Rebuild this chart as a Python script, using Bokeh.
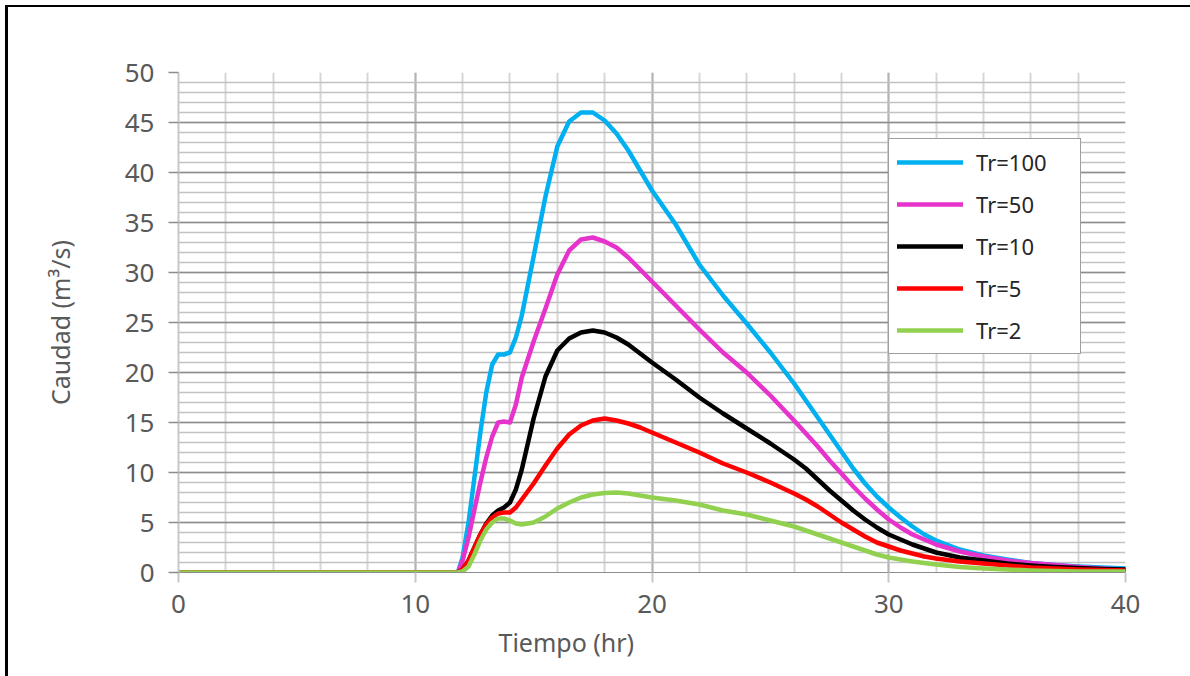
from bokeh.plotting import figure
from bokeh.layouts import column
from bokeh.models import (SingleIntervalTicker, Legend, LegendItem, Title,
                          Range1d, ColumnDataSource)
from bokeh.embed import file_html
from bokeh.resources import INLINE

# ---------------- data ----------------
tiempo = [0, 11.5, 11.8, 12.0, 12.25, 12.5, 12.75, 13.0, 13.25, 13.5, 13.75,
          14.0, 14.25, 14.5, 15.0, 15.5, 16.0, 16.5, 17.0, 17.5, 18.0, 18.5,
          19.0, 19.5, 20, 21, 22, 23, 24, 25, 26, 26.5, 27, 27.5, 28, 28.5,
          29, 29.5, 30, 30.5, 31, 31.5, 32, 33, 34, 35, 36, 37, 38, 39, 40]

tr100 = [0, 0, 0, 1.5, 5.0, 9.5, 14.0, 18.0, 20.8, 21.8, 21.8,
         22.0, 23.5, 25.7, 31.6, 37.6, 42.6, 45.1, 46.0, 46.0, 45.2, 43.9,
         42.2, 40.2, 38.2, 34.8, 30.8, 27.7, 24.9, 22.0, 18.9, 17.2, 15.5, 13.8, 12.1, 10.4,
         8.9, 7.6, 6.5, 5.5, 4.6, 3.8, 3.2, 2.3, 1.7, 1.3, 0.95, 0.75, 0.6, 0.5, 0.4]
tr50 = [0, 0, 0, 1.2, 3.5, 6.3, 9.0, 11.5, 13.6, 15.0, 15.1,
        15.0, 16.8, 19.5, 23.1, 26.4, 29.8, 32.2, 33.3, 33.5, 33.1, 32.5,
        31.5, 30.3, 29.1, 26.7, 24.3, 22.0, 20.0, 17.7, 15.2, 13.9, 12.6, 11.2, 9.9, 8.6,
        7.4, 6.3, 5.3, 4.5, 3.8, 3.3, 2.8, 2.1, 1.6, 1.2, 0.95, 0.75, 0.55, 0.4, 0.3]
tr10 = [0, 0, 0, 0.3, 1.2, 2.5, 3.8, 4.9, 5.7, 6.2, 6.5,
        7.0, 8.3, 10.3, 15.4, 19.6, 22.2, 23.4, 24.0, 24.2, 24.0, 23.5,
        22.8, 21.9, 21.0, 19.3, 17.5, 15.9, 14.4, 12.9, 11.3, 10.4, 9.3, 8.2, 7.2, 6.2,
        5.3, 4.5, 3.8, 3.3, 2.8, 2.4, 2.0, 1.5, 1.2, 0.9, 0.7, 0.55, 0.45, 0.35, 0.3]
tr5 = [0, 0, 0, 0.3, 1.2, 2.5, 3.8, 4.8, 5.5, 5.9, 6.0,
       6.0, 6.5, 7.3, 8.9, 10.7, 12.4, 13.8, 14.7, 15.2, 15.4, 15.2,
       14.9, 14.5, 14.0, 13.0, 12.0, 10.9, 10.0, 9.0, 7.9, 7.3, 6.6, 5.8, 5.0, 4.3,
       3.6, 3.0, 2.6, 2.2, 1.9, 1.6, 1.4, 1.1, 0.9, 0.7, 0.5, 0.4, 0.3, 0.25, 0.2]
tr2 = [0, 0, 0, 0.1, 0.6, 1.8, 3.2, 4.3, 5.0, 5.4, 5.4,
       5.2, 4.9, 4.8, 5.0, 5.6, 6.4, 7.0, 7.5, 7.8, 7.95, 8.0,
       7.9, 7.7, 7.5, 7.2, 6.8, 6.2, 5.8, 5.2, 4.6, 4.2, 3.8, 3.4, 3.0, 2.6,
       2.2, 1.8, 1.5, 1.3, 1.1, 0.95, 0.8, 0.55, 0.4, 0.3, 0.2, 0.15, 0.1, 0.1, 0.1]

series_names = ["Tr=100", "Tr=50", "Tr=10", "Tr=5", "Tr=2"]
series_values = [tr100, tr50, tr10, tr5, tr2]
series_colors = ["#00B0F0", "#E633CC", "#000000", "#FF0000", "#92D050"]

x_title = "Tiempo (hr)"
y_title = "Caudad (m³/s)"

# ---------------- figure ----------------
FONT = "Noto Sans"
GREY_TXT = "#595959"

p = figure(width=1182, height=669,
           x_range=Range1d(0, 40), y_range=Range1d(0, 50),
           output_backend="svg", toolbar_location=None,
           min_border_left=170, min_border_right=65,
           min_border_top=65, min_border_bottom=104)
p.outline_line_color = None
p.background_fill_color = "white"
p.border_fill_color = "white"

p.xaxis.ticker = SingleIntervalTicker(interval=10, num_minor_ticks=5)
p.yaxis.ticker = SingleIntervalTicker(interval=5, num_minor_ticks=5)

p.xgrid.grid_line_color = "#B4B4B4"
p.xgrid.grid_line_width = 2
p.xgrid.minor_grid_line_color = "#D6D6D6"
p.xgrid.minor_grid_line_width = 2
p.ygrid.grid_line_color = "#8C8C8C"
p.ygrid.grid_line_width = 1.5
p.ygrid.minor_grid_line_color = "#C2C2C2"
p.ygrid.minor_grid_line_width = 1.5

for ax in (p.xaxis[0], p.yaxis[0]):
    ax.major_tick_out = 10
    ax.major_tick_in = 0
    ax.minor_tick_out = 0
    ax.minor_tick_in = 0
    ax.major_label_text_font = FONT
    ax.major_label_text_font_size = "26px"
    ax.major_label_text_color = GREY_TXT
p.xaxis.axis_line_color = "#8C8C8C"
p.xaxis.major_tick_line_color = "#C8C8C8"
p.xaxis.major_tick_line_width = 2
p.xaxis.major_label_standoff = 12
p.yaxis.axis_line_color = "#C8C8C8"
p.yaxis.axis_line_width = 2
p.yaxis.major_tick_line_color = "#8C8C8C"
p.yaxis.major_tick_line_width = 1.5
p.yaxis.major_label_standoff = 14

p.yaxis.axis_label = y_title
p.yaxis.axis_label_text_font = FONT
p.yaxis.axis_label_text_font_size = "25px"
p.yaxis.axis_label_text_font_style = "normal"
p.yaxis.axis_label_text_color = GREY_TXT
p.yaxis.axis_label_standoff = 45

# ---------------- lines ----------------
items = []
for name, vals, col in zip(series_names, series_values, series_colors):
    src = ColumnDataSource(dict(x=tiempo, y=vals))
    r = p.line("x", "y", source=src, line_color=col, line_width=4.5,
               line_join="round", line_cap="round")
    items.append(LegendItem(label=name, renderers=[r]))

legend = Legend(items=items, location=(710, 218))
legend.padding = 8
legend.spacing = 12
legend.margin = 0
legend.glyph_height = 24
legend.label_height = 24
legend.glyph_width = 66
legend.label_standoff = 13
legend.label_width = 96
legend.label_text_font = FONT
legend.label_text_font_size = "22px"
legend.label_text_color = "#262626"
legend.border_line_color = "#404040"
legend.border_line_width = 1.5
legend.background_fill_color = "white"
legend.background_fill_alpha = 1
p.add_layout(legend)

# ---------------- x title (left-shifted like the original) ----------------
p.add_layout(Title(text=x_title, align="left", offset=320, standoff=15,
                   text_font=FONT, text_font_size="25px",
                   text_font_style="normal", text_color=GREY_TXT), "below")

# dark frame on the left and top edges of the chart area (as in the original)
page = column(p, styles={"margin-left": "5px", "margin-top": "5px",
                         "border-left": "3px solid #000000",
                         "border-top": "2px solid #000000"})

open("out.html", "w").write(file_html(page, INLINE))
